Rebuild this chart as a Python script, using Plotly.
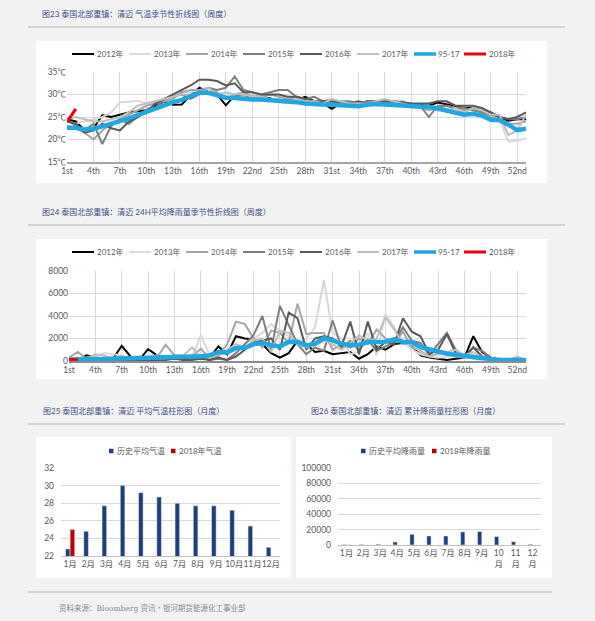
import plotly.graph_objects as go

# ---------------- data ----------------
weeks = list(range(1, 54))
week_tickvals = [1, 4, 7, 10, 13, 16, 19, 22, 25, 28, 31, 34, 37, 40, 43, 46, 49, 52]
week_ticktext = ["1st", "4th", "7th", "10th", "13th", "16th", "19th", "22nd", "25th",
                 "28th", "31st", "34th", "37th", "40th", "43rd", "46th", "49th", "52nd"]
series_names = ["2012年", "2013年", "2014年", "2015年", "2016年", "2017年", "95-17", "2018年"]

temp_tickvals = [15, 20, 25, 30, 35]
temp_ticktext = ["15℃", "20℃", "25℃", "30℃", "35℃"]

temp_2012 = [24.5, 24.0, 22.0, 22.5, 25.4, 25.0, 25.5, 26.0, 26.3, 26.5, 27.5, 28.5, 27.7, 27.8,
             29.8, 31.5, 30.5, 30.0, 27.6, 29.8, 29.5, 29.5, 29.5, 29.2, 28.5, 29.0, 28.8, 29.5,
             28.5, 28.0, 26.8, 28.0, 28.0, 27.8, 28.5, 28.5, 28.3, 28.0, 28.0, 27.8, 27.6, 27.5,
             28.2, 27.8, 27.5, 27.0, 27.0, 26.5, 26.0, 25.0, 24.2, 24.5, 24.5]
temp_2013 = [24.0, 23.5, 24.0, 24.5, 25.0, 26.0, 28.3, 28.4, 28.6, 28.0, 28.5, 29.0, 29.5, 30.5,
             30.5, 31.0, 30.0, 29.5, 30.0, 29.5, 29.5, 29.0, 29.0, 28.8, 28.5, 28.0, 28.5, 28.0,
             28.5, 28.5, 28.0, 28.0, 27.5, 27.5, 28.0, 28.0, 29.0, 28.0, 28.0, 27.0, 27.0, 27.0,
             26.5, 26.8, 26.5, 26.0, 25.5, 25.5, 24.5, 24.5, 19.5, 19.8, 20.2]
temp_2014 = [23.0, 22.5, 21.5, 20.0, 22.0, 23.5, 24.5, 25.5, 26.5, 27.5, 28.0, 28.5, 29.0, 30.5,
             31.0, 31.0, 31.5, 30.5, 29.0, 30.0, 30.5, 29.5, 29.5, 30.0, 29.5, 29.0, 29.5, 28.5,
             28.0, 28.5, 29.0, 28.0, 27.5, 28.0, 28.0, 28.5, 28.5, 28.0, 28.5, 27.5, 27.0, 26.5,
             27.0, 27.5, 27.0, 26.5, 27.0, 26.0, 25.0, 24.5, 23.5, 23.5, 24.0]
temp_2015 = [24.5, 23.0, 22.0, 23.5, 19.0, 23.0, 24.5, 23.5, 25.0, 26.5, 27.0, 29.0, 29.5, 30.0,
             29.0, 30.0, 31.5, 31.0, 31.5, 34.0, 31.0, 30.5, 30.0, 30.5, 31.0, 31.0, 29.5, 29.0,
             29.5, 28.5, 28.0, 28.5, 28.5, 28.0, 28.5, 28.5, 28.0, 28.5, 28.3, 28.0, 27.5, 25.0,
             27.5, 27.5, 27.0, 27.0, 26.5, 26.0, 25.5, 25.0, 24.5, 24.5, 25.0]
temp_2016 = [24.0, 23.5, 21.5, 22.0, 23.5, 22.5, 22.0, 24.0, 25.0, 26.0, 28.0, 29.0, 30.0, 31.0,
             32.0, 33.3, 33.3, 33.0, 32.0, 32.5, 30.5, 30.5, 30.0, 30.0, 30.0, 29.5, 29.5, 29.0,
             28.5, 28.5, 28.5, 28.0, 28.0, 28.5, 28.0, 28.5, 28.5, 28.5, 28.3, 28.0, 28.0, 28.0,
             28.5, 28.5, 27.5, 27.5, 27.5, 27.0, 26.0, 25.0, 24.5, 25.0, 26.0]
temp_2017 = [24.5, 25.0, 24.5, 24.0, 24.0, 24.5, 25.0, 26.0, 27.5, 28.0, 28.5, 29.0, 29.5, 30.0,
             30.0, 30.0, 31.5, 30.0, 30.5, 30.0, 30.0, 29.5, 29.5, 29.0, 29.0, 28.5, 29.0, 28.5,
             28.5, 28.0, 29.0, 28.5, 28.0, 28.0, 28.0, 28.5, 29.0, 28.5, 28.0, 27.5, 27.0, 27.0,
             26.5, 26.5, 27.0, 26.0, 27.0, 26.5, 25.5, 25.5, 21.0, 22.0, 25.5]
temp_9517 = [22.6, 22.6, 22.2, 22.4, 22.9, 23.4, 24.1, 24.7, 25.4, 26.3, 26.9, 27.6, 28.3, 28.8,
             29.6, 30.4, 30.4, 29.9, 29.3, 29.2, 29.0, 28.9, 28.9, 28.8, 28.6, 28.5, 28.3, 28.0,
             28.0, 27.8, 27.7, 27.6, 27.5, 27.4, 27.7, 27.9, 27.8, 27.7, 27.6, 27.6, 27.4, 27.2,
             26.9, 26.5, 26.0, 25.5, 25.7, 25.3, 24.4, 24.3, 23.3, 22.1, 22.4]
temp_2018 = [23.9, 26.8]

rain_2012 = [200, 100, 500, 300, 100, 200, 1350, 400, 100, 1050, 500, 300, 400, 200, 300, 200,
             300, 1300, 600, 2200, 2000, 1900, 1500, 700, 300, 700, 1800, 1500, 800, 900, 600,
             700, 800, 200, 600, 1300, 1000, 1500, 1600, 1400, 500, 300, 200, 100, 200, 300,
             2200, 800, 300, 100, 50, 50, 50]
rain_2013 = [300, 200, 300, 400, 700, 600, 500, 200, 200, 300, 400, 300, 600, 500, 300, 2300,
             500, 400, 800, 1000, 1500, 2000, 2500, 3300, 2600, 2200, 1500, 2000, 3000, 7200,
             2500, 2000, 600, 800, 2500, 500, 4200, 3000, 1800, 1000, 600, 400, 300, 400, 500,
             300, 200, 100, 200, 100, 50, 300, 100]
rain_2014 = [300, 800, 200, 300, 200, 300, 400, 300, 200, 300, 300, 1450, 500, 300, 400, 1100,
             200, 500, 1500, 3500, 3300, 2000, 1200, 2700, 2500, 1600, 5100, 2400, 2500, 2500,
             1000, 1500, 1200, 2000, 1500, 2800, 2000, 1600, 2600, 1200, 900, 400, 700, 800, 400,
             300, 500, 200, 100, 200, 100, 50, 100]
rain_2015 = [100, 100, 200, 100, 300, 200, 100, 200, 100, 100, 200, 300, 300, 400, 200, 300,
             100, 200, 100, 700, 1500, 2300, 4000, 1000, 4900, 3200, 1500, 600, 1200, 900, 3600,
             1200, 1800, 1000, 1900, 900, 1300, 1600, 3000, 1800, 1600, 500, 1500, 2500, 1000,
             400, 1200, 900, 300, 100, 100, 50, 100]
rain_2016 = [50, 50, 100, 50, 100, 50, 100, 50, 100, 50, 100, 100, 200, 100, 100, 200, 100, 300,
             100, 400, 1000, 1700, 1800, 2000, 1000, 4300, 3800, 1000, 2000, 2200, 2000, 1300,
             3500, 600, 3500, 1000, 1700, 1500, 3800, 2600, 2200, 600, 1000, 2400, 700, 400,
             1200, 400, 200, 100, 100, 50, 50]
rain_2017 = [200, 300, 200, 600, 500, 200, 300, 200, 400, 300, 500, 400, 300, 500, 1200, 400,
             300, 600, 1000, 1500, 1200, 1800, 2000, 800, 2700, 2500, 1500, 1200, 1400, 1800,
             1500, 1000, 1600, 2300, 1800, 2000, 3900, 2800, 1500, 1500, 800, 400, 600, 800,
             1000, 500, 800, 300, 200, 100, 100, 400, 100]
rain_9517 = [100, 150, 150, 150, 170, 190, 200, 200, 220, 270, 280, 300, 350, 380, 400, 420,
             500, 800, 750, 1150, 1150, 1500, 1600, 1390, 1300, 1700, 1690, 1390, 1540, 2040,
             1840, 1540, 1390, 1450, 1690, 1720, 1720, 1920, 1700, 1690, 1240, 1040, 800, 650,
             560, 410, 350, 270, 150, 100, 90, 90, 100]
rain_2018 = [150, 150]

months = ["1月", "2月", "3月", "4月", "5月", "6月", "7月", "8月", "9月", "10月", "11月", "12月"]
rain_month_ticktext = ["1月", "2月", "3月", "4月", "5月", "6月", "7月", "8月", "9月",
                       "10<br>月", "11<br>月", "12<br>月"]
hist_temp = [22.8, 24.8, 27.7, 30.0, 29.2, 28.7, 28.0, 27.7, 27.7, 27.2, 25.4, 23.0]
temp_2018_month = [25.0, None, None, None, None, None, None, None, None, None, None, None]
hist_rain = [500, 700, 1000, 3900, 13900, 11700, 11700, 17000, 17400, 10900, 4300, 900]
rain_2018_month = [150, None, None, None, None, None, None, None, None, None, None, None]
bar_names_temp = ["历史平均气温", "2018年气温"]
bar_names_rain = ["历史平均降雨量", "2018年降雨量"]

titles = ["图23 泰国北部重镇：清迈 气温季节性折线图（周度）",
          "图24 泰国北部重镇：清迈 24H平均降雨量季节性折线图（周度）",
          "图25 泰国北部重镇：清迈 平均气温柱形图（月度）",
          "图26 泰国北部重镇：清迈 累计降雨量柱形图（月度）"]
source_text = "资料来源：Bloomberg 资讯・银河期货能源化工事业部"

# ---------------- styles ----------------
W, H = 595, 621
BG = "#f2f2f2"
def px(x):
    return x / W
def py(y):
    return 1 - y / H

FONT = "Lato, 'Noto Sans CJK SC', sans-serif"
TICK = "#595959"
GRID = "#d9d9d9"
line_colors = ["#000000", "#d9d9d9", "#a6a6a6", "#7f7f7f", "#595959", "#bfbfbf", "#1ea7e1", "#e60012"]
line_widths = [2, 2, 2, 2, 2, 2, 4.5, 3]
NAVY = "#203e78"
RED = "#c00000"

temp_series = [temp_2012, temp_2013, temp_2014, temp_2015, temp_2016, temp_2017, temp_9517, temp_2018]
rain_series = [rain_2012, rain_2013, rain_2014, rain_2015, rain_2016, rain_2017, rain_9517, rain_2018]

fig = go.Figure()
for i, (name, vals) in enumerate(zip(series_names, temp_series)):
    fig.add_trace(go.Scatter(x=weeks[:len(vals)], y=vals, name=name, mode="lines",
                             line=dict(color=line_colors[i], width=line_widths[i]),
                             xaxis="x", yaxis="y", showlegend=False))
for i, (name, vals) in enumerate(zip(series_names, rain_series)):
    fig.add_trace(go.Scatter(x=weeks[:len(vals)], y=vals, name=name, mode="lines",
                             line=dict(color=line_colors[i], width=line_widths[i]),
                             xaxis="x2", yaxis="y2", showlegend=False))

fig.add_trace(go.Bar(x=months, y=hist_temp, name=bar_names_temp[0], marker_color=NAVY,
                     xaxis="x3", yaxis="y3", showlegend=False))
fig.add_trace(go.Bar(x=months, y=temp_2018_month, name=bar_names_temp[1], marker_color=RED,
                     xaxis="x3", yaxis="y3", showlegend=False))
fig.add_trace(go.Bar(x=months, y=hist_rain, name=bar_names_rain[0], marker_color=NAVY,
                     xaxis="x4", yaxis="y4", showlegend=False))
fig.add_trace(go.Bar(x=months, y=rain_2018_month, name=bar_names_rain[1], marker_color=RED,
                     xaxis="x4", yaxis="y4", showlegend=False))

tickfont = dict(family=FONT, size=8.5, color=TICK)

def xax(d0, d1, anchor, **kw):
    base = dict(domain=[px(d0), px(d1)], anchor=anchor, ticks="", tickfont=tickfont,
                zeroline=False, automargin=False, fixedrange=True)
    base.update(kw)
    return base

def yax(top, bottom, anchor, **kw):
    base = dict(domain=[py(bottom), py(top)], anchor=anchor, ticks="", tickfont=tickfont,
                zeroline=False, automargin=False, showgrid=True, gridcolor=GRID, gridwidth=1,
                showline=False, fixedrange=True)
    base.update(kw)
    return base

layout = dict(
    width=W, height=H, autosize=False,
    margin=dict(l=0, r=0, t=0, b=0),
    paper_bgcolor=BG, plot_bgcolor="rgba(0,0,0,0)",
    font=dict(family=FONT, size=8.5, color=TICK),
    barmode="group", bargap=0.5, bargroupgap=0,
    showlegend=False,
    xaxis=xax(67, 526, "y", range=[1, 53], tickvals=week_tickvals, ticktext=week_ticktext,
              showgrid=True, gridcolor=GRID, gridwidth=1, showline=True,
              linecolor="#a6a6a6", linewidth=1.5, tickangle=0),
    yaxis=yax(72, 162, "x", range=[15, 35], tickvals=temp_tickvals, ticktext=temp_ticktext),
    xaxis2=xax(69, 526, "y2", range=[1, 53], tickvals=week_tickvals, ticktext=week_ticktext,
               showgrid=True, gridcolor=GRID, gridwidth=1, showline=True,
               linecolor="#8c8c8c", linewidth=2, tickangle=0),
    yaxis2=yax(271, 361, "x2", range=[0, 8000], dtick=2000),
    xaxis3=xax(61, 280, "y3", type="category", showgrid=False, showline=True,
               linecolor="#bfbfbf", linewidth=1, tickangle=0),
    yaxis3=yax(468, 556, "x3", range=[22, 32], dtick=2, ticklabelstandoff=6),
    xaxis4=xax(338, 541, "y4", type="category", showgrid=False, showline=True,
               linecolor="#bfbfbf", linewidth=1, tickvals=months, ticktext=rain_month_ticktext,
               tickangle=0),
    yaxis4=yax(468, 545, "x4", range=[0, 100000], dtick=20000, tickformat="d",
               ticklabelstandoff=6),
)

shapes = []
annotations = []

def rect(x0, y0, x1, y1, color):
    shapes.append(dict(type="rect", xref="paper", yref="paper", x0=px(x0), x1=px(x1),
                       y0=py(y1), y1=py(y0), fillcolor=color, line=dict(width=0), layer="below"))

def hline(x0, x1, y, color, width):
    shapes.append(dict(type="line", xref="paper", yref="paper", x0=px(x0), x1=px(x1),
                       y0=py(y), y1=py(y), line=dict(color=color, width=width), layer="below"))

def text(x, y, s, size=8, color=TICK, family=FONT, anchor="left"):
    annotations.append(dict(x=px(x), y=py(y), xref="paper", yref="paper", text=s,
                            showarrow=False, xanchor=anchor, yanchor="middle",
                            font=dict(family=family, size=size, color=color)))

# white panels
rect(36, 41, 547, 183, "#ffffff")
rect(36, 239, 547, 379, "#ffffff")
rect(36, 437, 291, 578, "#ffffff")
rect(296, 437, 552, 578, "#ffffff")

# separators
hline(28, 565, 27, "#c8c8c8", 1.5)
hline(28, 565, 225, "#c8c8c8", 1.5)
hline(28, 565, 424, "#c8c8c8", 1.5)
hline(28, 552, 592, "#c8c8c8", 1.5)

# titles
TITLE_COLOR = "#3f4f86"
text(40, 14, titles[0], 8, TITLE_COLOR)
text(40, 212, titles[1], 8, TITLE_COLOR)
text(41, 411, titles[2], 8, TITLE_COLOR)
text(309, 411, titles[3], 8, TITLE_COLOR)
text(57, 608, source_text, 7.5, "#8c8c8c", "'DejaVu Serif', 'Noto Sans CJK SC', serif")

# line legends (charts 1 and 2)
legend_x = [72, 129, 186, 243, 300, 357, 414, 464]
for ly in (54, 252):
    for i, name in enumerate(series_names):
        x0 = legend_x[i]
        shapes.append(dict(type="line", xref="paper", yref="paper", x0=px(x0), x1=px(x0 + 22),
                           y0=py(ly), y1=py(ly),
                           line=dict(color=line_colors[i], width=min(line_widths[i], 3.5))))
        text(x0 + 22.5, ly, name, 8, "#595959")

# bar legends
def sq(x, y, color):
    shapes.append(dict(type="rect", xref="paper", yref="paper", x0=px(x), x1=px(x + 4.5),
                       y0=py(y + 2.25), y1=py(y - 2.25), fillcolor=color, line=dict(width=0)))

sq(109, 451, NAVY); text(115, 451, bar_names_temp[0], 8)
sq(171, 451, RED); text(177, 451, bar_names_temp[1], 8)
sq(361, 451, NAVY); text(367, 451, bar_names_rain[0], 8)
sq(432, 451, RED); text(438, 451, bar_names_rain[1], 8)

layout["shapes"] = shapes
layout["annotations"] = annotations
fig.update_layout(**layout)
fig.write_html("out.html", config={"displayModeBar": False},
               post_script="document.body.style.margin='0';document.body.style.background='%s';" % BG)
